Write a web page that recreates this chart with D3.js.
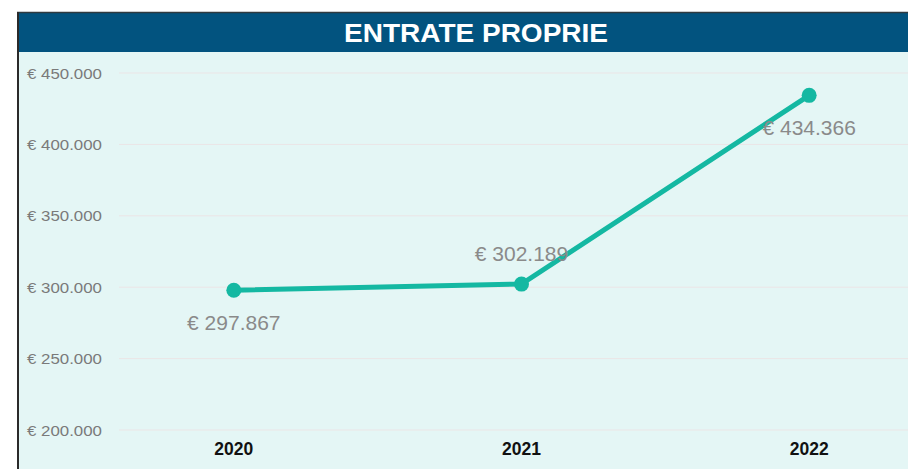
<!DOCTYPE html>
<html><head><meta charset="utf-8">
<script src="https://cdn.jsdelivr.net/npm/d3@7"></script>
<style>
html,body{margin:0;padding:0;background:#fff;overflow:hidden;}
</style></head>
<body>
<svg id="chart" width="908" height="469"></svg>
<script>
const title = "ENTRATE PROPRIE";
const years = ["2020", "2021", "2022"];
const values = [297867, 302189, 434366];
const labelPos = ["below", "above", "below"];
const yTicks = [200000, 250000, 300000, 350000, 400000, 450000];

const svg = d3.select("#chart");
const W = 908, H = 469;
const panelX = 17, panelTop = 12, titleH = 40;

svg.append("rect").attr("x", panelX).attr("y", panelTop).attr("width", W - panelX + 10).attr("height", H)
  .attr("fill", "#e4f6f5");
svg.append("rect").attr("x", panelX).attr("y", panelTop).attr("width", W - panelX + 10).attr("height", titleH)
  .attr("fill", "#02537f");
svg.append("line").attr("x1", panelX).attr("x2", W).attr("y1", panelTop + 0.5).attr("y2", panelTop + 0.5)
  .attr("stroke", "#2f3a40").attr("stroke-width", 1.5);
svg.append("line").attr("x1", panelX + 1).attr("x2", panelX + 1).attr("y1", panelTop).attr("y2", H)
  .attr("stroke", "#2a2a2a").attr("stroke-width", 2);
svg.append("text").attr("x", 476).attr("y", 42)
  .attr("text-anchor", "middle")
  .attr("fill", "#fff").attr("font-family", "'Liberation Sans',Arial,sans-serif")
  .attr("font-weight", "bold").attr("font-size", 26.5)
  .attr("textLength", 264).attr("lengthAdjust", "spacingAndGlyphs").text(title);

const y = d3.scaleLinear().domain([200000, 450000]).range([430, 73]);
const x = d3.scalePoint().domain(years).range([90, 953]).padding(0.5);

const fmt = d3.formatLocale({decimal: ",", thousands: ".", grouping: [3], currency: ["€ ", ""]}).format("$,.0f");

svg.append("g").selectAll("line").data(yTicks).join("line")
  .attr("x1", 119).attr("x2", W).attr("y1", d => y(d)).attr("y2", d => y(d))
  .attr("stroke", "#ebe5e6").attr("stroke-width", 1);

svg.append("g").selectAll("text").data(yTicks).join("text")
  .attr("x", 27).attr("y", d => y(d) + 5.5)
  .attr("fill", "#7a7a7a").attr("font-family", "'Liberation Sans',Arial,sans-serif")
  .attr("font-size", 15.5).attr("textLength", 75).attr("lengthAdjust", "spacingAndGlyphs")
  .text(d => fmt(d));

svg.append("g").selectAll("text").data(years).join("text")
  .attr("x", d => x(d)).attr("y", 455).attr("text-anchor", "middle")
  .attr("fill", "#111").attr("font-family", "'Liberation Sans',Arial,sans-serif")
  .attr("font-weight", "bold").attr("font-size", 17.5).text(d => d);

const data = years.map((yr, i) => ({yr, v: values[i], pos: labelPos[i]}));

svg.append("path").datum(data)
  .attr("d", d3.line().x(d => x(d.yr)).y(d => y(d.v)))
  .attr("fill", "none").attr("stroke", "#14b8a2").attr("stroke-width", 5).attr("stroke-linecap", "round");

svg.append("g").selectAll("circle").data(data).join("circle")
  .attr("cx", d => x(d.yr)).attr("cy", d => y(d.v)).attr("r", 7.5).attr("fill", "#14b8a2");

svg.append("g").selectAll("text").data(data).join("text")
  .attr("x", d => x(d.yr)).attr("y", d => y(d.v) + (d.pos === "below" ? 40 : -23))
  .attr("text-anchor", "middle")
  .attr("fill", "#8a8a8a").attr("font-family", "'Liberation Sans',Arial,sans-serif")
  .attr("font-size", 21).text(d => fmt(d.v));
</script>
</body></html>
